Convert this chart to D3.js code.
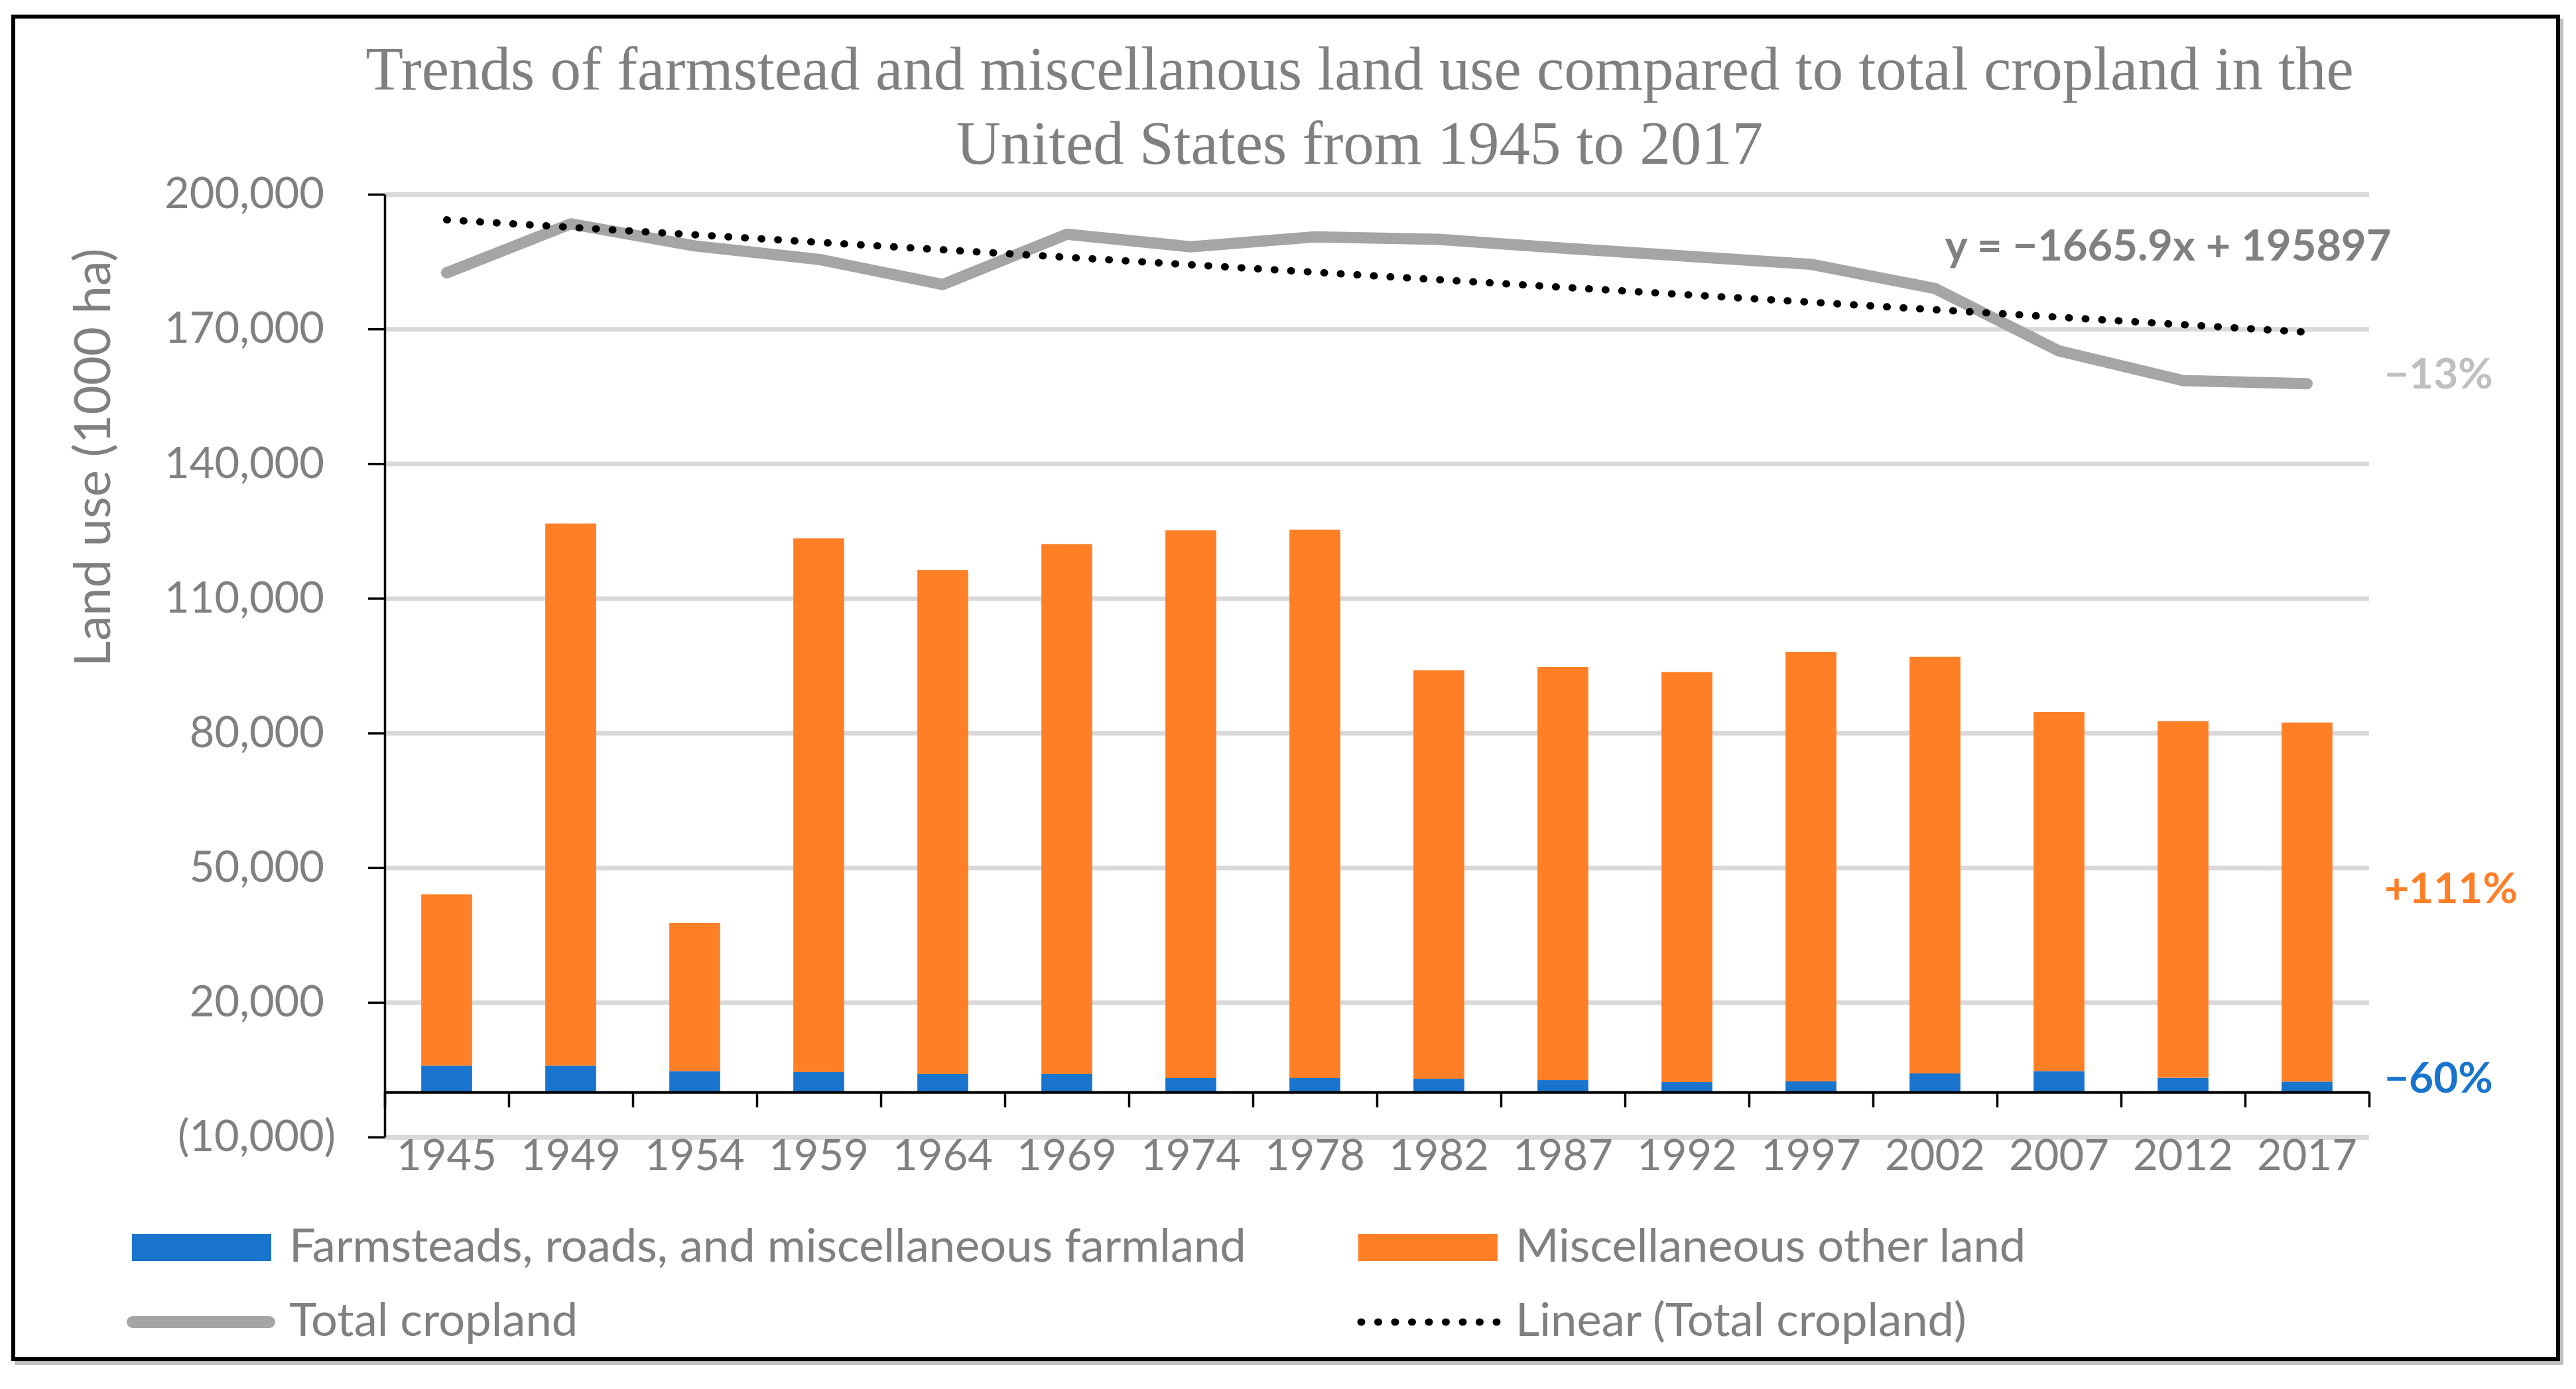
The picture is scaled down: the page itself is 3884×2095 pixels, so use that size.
<!DOCTYPE html>
<html>
<head>
<meta charset="utf-8">
<title>Farmstead and miscellaneous land use vs total cropland</title>
<script src="https://cdn.jsdelivr.net/npm/d3@7"></script>
<style>
  body { margin: 0; background: #fff; }
  svg text { font-family: Lato, "Noto Sans", sans-serif; fill: #808080; }
  svg text.title { font-family: "Liberation Serif", "DejaVu Serif", serif; }
</style>
</head>
<body>
<svg id="chart" width="3884" height="2095"></svg>
<script>
// Values (1000 ha)
var years = ["1945", "1949", "1954", "1959", "1964", "1969", "1974", "1978",
             "1982", "1987", "1992", "1997", "2002", "2007", "2012", "2017"];
var farmsteads = [5900, 5900, 4700, 4480, 4040, 4040, 3140, 3140,
                  2990, 2690, 2250, 2400, 4170, 4700, 3200, 2350];
var miscOther = [38150, 120760, 33010, 118860, 112220, 118020, 122010, 122160,
                 90960, 92010, 91320, 95690, 92790, 79970, 79440, 79990];
var totalCropland = [182500, 193400, 188500, 185500, 179900, 191100, 188300, 190500,
                     189950, 188000, 186200, 184400, 179000, 165100, 158500, 157800];
var yTicks = [-10000, 20000, 50000, 80000, 110000, 140000, 170000, 200000];

var titleLines = ["Trends of farmstead and miscellanous land use compared to total cropland in the",
                  "United States from 1945 to 2017"];
var yAxisTitle = "Land use (1000 ha)";
var seriesNames = ["Farmsteads, roads, and miscellaneous farmland", "Miscellaneous other land",
                   "Total cropland", "Linear (Total cropland)"];
var trendLabel = "y = \u22121665.9x + 195897";
var changeLabels = ["\u221213%", "+111%", "\u221260%"];

var colors = {blue: "#1874CD", orange: "#FF7F27", line: "#A5A5A5", grid: "#D9D9D9",
              text: "#808080", light: "#BFBFBF"};

function landUseChart(svg) {

  /****** Declare Local Variables ******/

  var _chartObj = {},
      _svg = svg,
      _svgWidth = +svg.attr('width'), _svgHeight = +svg.attr('height'),
      _data = [];

  var _plot = {left: 580, right: 3572, top: 293, bottom: 1715},
      _x, _y, _edges, _stack;

  var _fontSize = 65,
      _legendFontSize = 70.5;

  _data = years.map(function (yr, i) {
    return {year: yr, farmsteads: farmsteads[i], misc: miscOther[i], total: totalCropland[i]};
  });

  _x = d3.scaleBand().domain(years)
         .range([_plot.left, _plot.right])
         .paddingInner(0.59).paddingOuter(0.295);
  _edges = d3.scaleLinear().domain([0, years.length]).range([_plot.left, _plot.right]);
  _y = d3.scaleLinear().domain([-10000, 200000]).range([_plot.bottom, _plot.top]);
  _stack = d3.stack().keys(["farmsteads", "misc"]);

  function centre(d) { return _x(d.year) + _x.bandwidth() / 2; }

  /****** Draw the Chart ******/

  _chartObj.render = function () {
    renderFrame();
    renderTitle();
    renderGrid();
    renderBars();
    renderAxes();
    renderLines();
    renderNotes();
    renderLegend();
  };

  function renderFrame() {
    _svg.append("rect")
        .attr("x", 25).attr("y", 31)
        .attr("width", _svgWidth - 47).attr("height", _svgHeight - 70)
        .attr("fill", "none").attr("stroke", colors.light).attr("stroke-width", 6);
    _svg.append("rect")
        .attr("x", 20).attr("y", 25)
        .attr("width", _svgWidth - 47).attr("height", _svgHeight - 70)
        .attr("fill", "#fff").attr("stroke", "#000").attr("stroke-width", 6);
  }

  function renderTitle() {
    var title = _svg.append("g").attr("class", "title");
    var lines = title.selectAll("text")
        .data(titleLines)
        .enter().append("text")
        .attr("class", "title")
        .attr("x", 2050)
        .attr("y", function (d, i) { return 135 + i * 112; })
        .attr("text-anchor", "middle")
        .attr("font-size", 80)
        .text(function (d) { return d; });

    // fit the first line to the width it has in the picture
    var len = lines.node().getComputedTextLength();
    lines.attr("font-size", 80 * 2998 / len);
  }

  function renderGrid() {
    var grid = d3.axisLeft(_y).tickValues(yTicks)
                 .tickSize(-(_plot.right - _plot.left)).tickFormat("");
    var g = _svg.append("g")
        .attr("class", "grid")
        .attr("transform", "translate(" + _plot.left + ",0)")
        .call(grid);
    g.select(".domain").remove();
    g.selectAll(".tick line").attr("stroke", colors.grid).attr("stroke-width", 7);
  }

  function renderBars() {
    var layers = _svg.append("g").attr("class", "bars")
        .selectAll("g")
        .data(_stack(_data))
        .enter().append("g")
        .attr("fill", function (d, i) { return i === 0 ? colors.blue : colors.orange; });

    layers.selectAll("rect")
        .data(function (d) { return d; })
        .enter().append("rect")
        .attr("x", function (d) { return _x(d.data.year); })
        .attr("width", _x.bandwidth())
        .attr("y", function (d) { return _y(d[1]); })
        .attr("height", function (d) { return _y(d[0]) - _y(d[1]); });
  }

  function renderAxes() {
    // category labels sit below the lowest gridline
    var labels = _svg.append("g")
        .attr("class", "axis")
        .attr("transform", "translate(0," + _plot.bottom + ")")
        .call(d3.axisBottom(_x).tickSize(0).tickPadding(4));
    labels.select(".domain").remove();
    labels.attr("font-family", null).attr("font-size", null);
    labels.selectAll("text").attr("font-size", _fontSize).attr("fill", colors.text);

    // category axis line crosses at zero, ticks between categories
    var xAxis = d3.axisBottom(_edges)
        .tickValues(d3.range(years.length + 1))
        .tickSize(23).tickSizeOuter(0).tickFormat("");
    var gx = _svg.append("g")
        .attr("class", "axis")
        .attr("transform", "translate(0," + _y(0) + ")")
        .call(xAxis);
    gx.select(".domain").attr("stroke-width", 4);
    gx.selectAll(".tick line").attr("stroke-width", 3.5);

    var yAxis = d3.axisLeft(_y).tickValues(yTicks)
        .tickSize(25).tickSizeOuter(0).tickPadding(49)
        .tickFormat(function (v) {
          var s = d3.format(",")(Math.abs(v));
          return v < 0 ? "(" + s + ")" : s;
        });
    var gy = _svg.append("g")
        .attr("class", "axis")
        .attr("transform", "translate(" + _plot.left + ",0)")
        .call(yAxis);
    gy.attr("font-family", null).attr("font-size", null);
    gy.select(".domain").attr("stroke-width", 3.5);
    gy.selectAll(".tick line").attr("stroke-width", 3.5);
    gy.selectAll(".tick text")
        .attr("font-size", _fontSize).attr("fill", colors.text)
        .attr("dx", function (v) { return v < 0 ? 0 : -17; });

    _svg.append("text")
        .attr("transform", "translate(166,690) rotate(-90)")
        .attr("text-anchor", "middle")
        .attr("font-size", 76)
        .text(yAxisTitle);
  }

  function renderLines() {
    var line = d3.line()
        .x(function (d) { return centre(d); })
        .y(function (d) { return _y(d.total); });

    _svg.append("path")
        .datum(_data)
        .attr("fill", "none")
        .attr("stroke", colors.line)
        .attr("stroke-width", 17)
        .attr("stroke-linejoin", "round")
        .attr("stroke-linecap", "round")
        .attr("d", line);

    // least squares trend of total cropland, x = 1..n as in the spreadsheet
    var n = _data.length,
        mx = d3.mean(_data, function (d, i) { return i + 1; }),
        my = d3.mean(_data, function (d) { return d.total; }),
        sxy = d3.sum(_data, function (d, i) { return (i + 1 - mx) * (d.total - my); }),
        sxx = d3.sum(_data, function (d, i) { return (i + 1 - mx) * (i + 1 - mx); }),
        slope = sxy / sxx,
        intercept = my - slope * mx;

    var trend = [_data[0], _data[n - 1]].map(function (d) {
      var k = years.indexOf(d.year) + 1;
      return {x: centre(d), v: intercept + slope * k};
    });

    _svg.append("path")
        .datum(trend)
        .attr("fill", "none")
        .attr("stroke", "#000")
        .attr("stroke-width", 11)
        .attr("stroke-linecap", "round")
        .attr("stroke-dasharray", "1 24")
        .attr("d", d3.line()
            .x(function (d) { return d.x; })
            .y(function (d) { return _y(d.v); }));
  }

  function renderNotes() {
    var last = _data[_data.length - 1];
    _svg.append("text")
        .attr("x", 3269).attr("y", _y(last.total) - 186)
        .attr("text-anchor", "middle")
        .attr("font-size", 65).attr("font-weight", "bold")
        .attr("fill", colors.text)
        .text(trendLabel);

    var notes = [
      {label: changeLabels[0], fill: colors.light, y: 586},
      {label: changeLabels[1], fill: colors.orange, y: 1362},
      {label: changeLabels[2], fill: colors.blue, y: 1648}
    ];
    _svg.append("g").selectAll("text")
        .data(notes)
        .enter().append("text")
        .attr("x", 3595)
        .attr("y", function (d) { return d.y; })
        .attr("font-size", 64).attr("font-weight", "bold")
        .style("fill", function (d) { return d.fill; })
        .text(function (d) { return d.label; });
  }

  function renderLegend() {
    var items = [
      {name: seriesNames[0], kind: "box", fill: colors.blue, x: 199, y: 1882},
      {name: seriesNames[1], kind: "box", fill: colors.orange, x: 2048, y: 1882},
      {name: seriesNames[2], kind: "line", x: 199, y: 1994},
      {name: seriesNames[3], kind: "dots", x: 2048, y: 1994}
    ];

    var entry = _svg.append("g").attr("class", "legend")
        .selectAll("g")
        .data(items)
        .enter().append("g")
        .attr("transform", function (d) { return "translate(" + d.x + "," + d.y + ")"; });

    entry.filter(function (d) { return d.kind === "box"; })
        .append("rect")
        .attr("y", -21).attr("width", 210).attr("height", 41)
        .attr("fill", function (d) { return d.fill; });

    entry.filter(function (d) { return d.kind === "line"; })
        .append("line")
        .attr("x1", 1).attr("x2", 207)
        .attr("stroke", colors.line).attr("stroke-width", 18)
        .attr("stroke-linecap", "round");

    entry.filter(function (d) { return d.kind === "dots"; })
        .append("line")
        .attr("x1", 4).attr("x2", 210)
        .attr("stroke", "#000").attr("stroke-width", 11)
        .attr("stroke-linecap", "round")
        .attr("stroke-dasharray", "1 24.5");

    entry.append("text")
        .attr("x", 237).attr("y", 21)
        .attr("font-size", _legendFontSize)
        .text(function (d) { return d.name; });
  }

  return _chartObj;
}

function init() {
  var chart = landUseChart(d3.select("#chart"));
  chart.render();
}

init();
</script>
</body>
</html>
